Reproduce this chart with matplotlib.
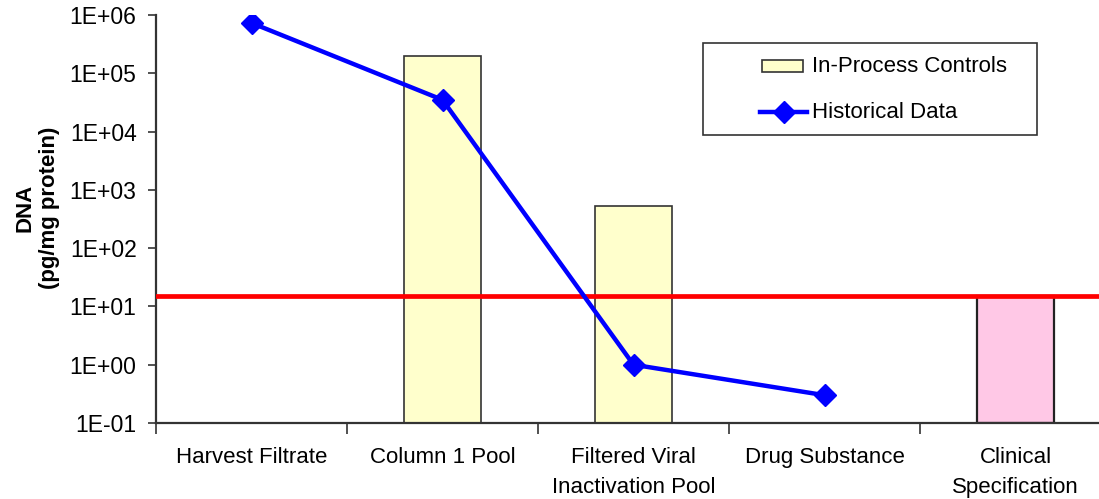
import matplotlib
matplotlib.use("Agg")
import matplotlib.pyplot as plt
from matplotlib.ticker import FixedLocator, FixedFormatter, NullLocator
from matplotlib.lines import Line2D
from matplotlib.patches import Rectangle
import numpy as np

plt.rcParams['font.family'] = ['Liberation Sans', 'DejaVu Sans']

categories = ["Harvest Filtrate", "Column 1 Pool", "Filtered Viral\nInactivation Pool",
              "Drug Substance", "Clinical\nSpecification"]
inprocess_values = [None, 2.0e5, 530, None, None]
historical_values = [7.3e5, 3.5e4, 1.0, 0.3]
spec_value = 15
ytick_values = [1e-1, 1e0, 1e1, 1e2, 1e3, 1e4, 1e5, 1e6]
ytick_labels = ["1E-01", "1E+00", "1E+01", "1E+02", "1E+03", "1E+04", "1E+05", "1E+06"]
legend_labels = ["In-Process Controls", "Historical Data"]

W, H = 1099, 499
fig = plt.figure(figsize=(W / 100, H / 100), dpi=100)
ax = fig.add_axes([156 / W, 1 - 423 / H, (W - 156) / W, (423 - 15) / H])

def fx(px):
    return px / W

def fy(py):
    return 1 - py / H

x = np.arange(len(categories))
bw = 0.40
ymin = 0.1
yellow = "#ffffcc"
blue = "#0000ff"
for i, v in enumerate(inprocess_values):
    if v is not None:
        ax.bar(x[i], v - ymin, bottom=ymin, width=bw, color=yellow,
               edgecolor="#333333", linewidth=1.2, zorder=2)
ax.bar(x[4], spec_value - ymin, bottom=ymin, width=bw, color="#ffc8e6",
       edgecolor="#222222", linewidth=1.6, zorder=2)

ax.axhline(spec_value, color="#ff0000", linewidth=3.4, zorder=3)

ax.plot(x[:len(historical_values)], historical_values, color=blue, linewidth=3.2,
        marker="D", markersize=11.5, markerfacecolor=blue, markeredgecolor=blue,
        zorder=4)

ax.set_yscale("log")
ax.set_ylim(1e-1, 1e6)
cat_px = 191.0
ax.set_xlim(-0.5, -0.5 + (W - 156) / cat_px)
ax.yaxis.set_major_locator(FixedLocator(ytick_values))
ax.yaxis.set_major_formatter(FixedFormatter(ytick_labels))
ax.yaxis.set_minor_locator(NullLocator())

ax.set_xticks(x)
ax.set_xticklabels(categories, fontsize=16, linespacing=1.6)
ax.tick_params(axis="x", length=0, pad=17)
ax.set_xticks(np.arange(len(categories)) - 0.5, minor=True)
ax.tick_params(axis="x", which="minor", length=8, direction="out", color="#333333", width=1.2)
ax.tick_params(axis="y", length=6, direction="out", labelsize=16.5, color="#333333",
               width=1.2, pad=8)

for s in ["top", "right"]:
    ax.spines[s].set_visible(False)
for s in ["left", "bottom"]:
    ax.spines[s].set_color("#333333")
    ax.spines[s].set_linewidth(1.6)

fig.text(fx(37), fy(208), "DNA\n(pg/mg protein)", fontsize=16, fontweight="bold",
         rotation=90, ha="center", va="center", linespacing=1.2)

# legend box
fig.patches.append(Rectangle((fx(703), fy(135)), fx(1037) - fx(703), fy(43) - fy(135),
                             transform=fig.transFigure, facecolor="white",
                             edgecolor="#333333", linewidth=1.2, zorder=5))
fig.patches.append(Rectangle((fx(762), fy(72)), fx(803) - fx(762), fy(60) - fy(72),
                             transform=fig.transFigure, facecolor=yellow,
                             edgecolor="#333333", linewidth=1.2, zorder=6))
fig.lines.append(Line2D([fx(760), fx(807)], [fy(112), fy(112)], transform=fig.transFigure,
                        color=blue, linewidth=3.2, zorder=6))
fig.lines.append(Line2D([fx(783.5)], [fy(112)], transform=fig.transFigure, color=blue,
                        marker="D", markersize=11, zorder=6))
fig.text(fx(812), fy(66), legend_labels[0], fontsize=16, ha="left", va="center", zorder=7)
fig.text(fx(812), fy(112), legend_labels[1], fontsize=16, ha="left", va="center", zorder=7)

fig.savefig("out.png", dpi=100)
